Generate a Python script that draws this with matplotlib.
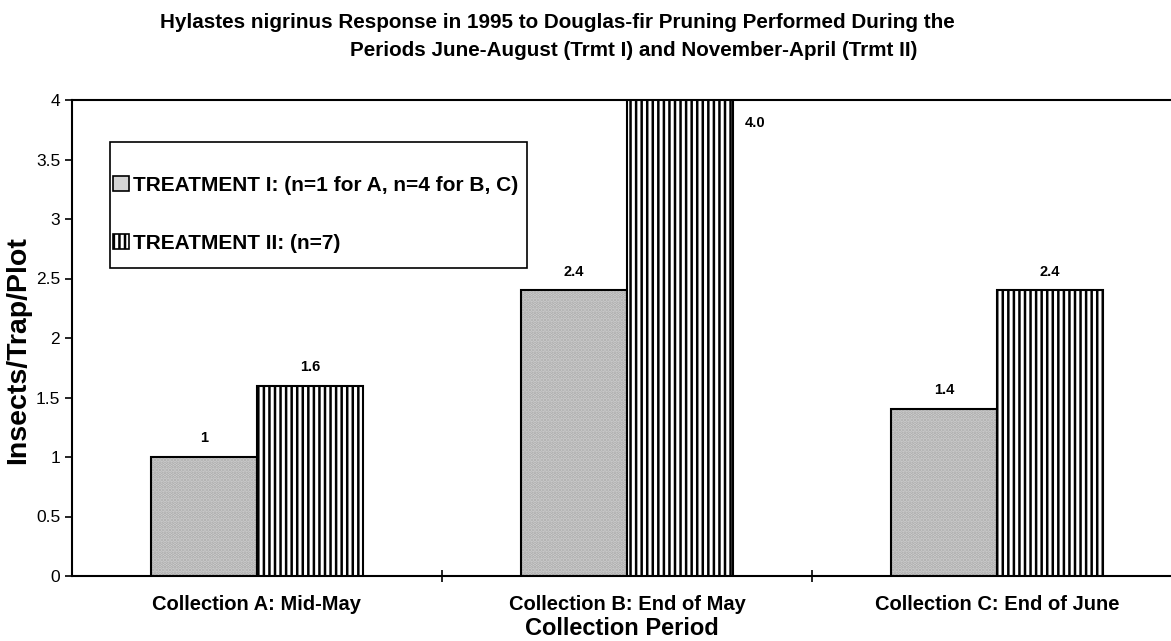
import matplotlib.pyplot as plt
from matplotlib.patches import Patch, Rectangle
import numpy as np

plt.rcParams['font.family'] = ['Liberation Sans', 'DejaVu Sans']
plt.rcParams['hatch.linewidth'] = 1.8

# data
categories = ['Collection A: Mid-May', 'Collection B: End of May', 'Collection C: End of June']
trmt1 = [1.0, 2.4, 1.4]
trmt2 = [1.6, 4.0, 2.4]
trmt1_labels = ['1', '2.4', '1.4']
trmt2_labels = ['1.6', '4.0', '2.4']
yticks = [0, 0.5, 1, 1.5, 2, 2.5, 3, 3.5, 4]
ytick_labels = ['0', '0.5', '1', '1.5', '2', '2.5', '3', '3.5', '4']

W, H = 1171, 641
fig = plt.figure(figsize=(W / 100, H / 100), dpi=100)
ax = fig.add_axes([72 / W, 1 - 576 / H, 1 - 72 / W, (576 - 100) / H])

x = np.arange(len(categories))
w = 0.287

# treatment I: light stipple grey
ax.bar(x - w / 2, trmt1, w, color='#d4d4d4', edgecolor='#a8a8a8', hatch='.....', linewidth=0, zorder=2)
ax.bar(x - w / 2, trmt1, w, facecolor='none', edgecolor='black', linewidth=1.5, zorder=3)
# treatment II: vertical black stripes
ax.bar(x + w / 2, trmt2, w, color='white', edgecolor='black', hatch='|||', linewidth=1.5, zorder=3)

for xi, v, lab in zip(x, trmt1, trmt1_labels):
    ax.text(xi - w / 2, v + 0.1, lab, ha='center', va='bottom', fontsize=10.5, fontweight='bold')
for xi, v, lab in zip(x, trmt2, trmt2_labels):
    if v >= 4:
        ax.text(xi + w + 0.03, v - 0.19, lab, ha='left', va='center', fontsize=10.5, fontweight='bold')
    else:
        ax.text(xi + w / 2, v + 0.1, lab, ha='center', va='bottom', fontsize=10.5, fontweight='bold')

ax.set_ylim(0, 4)
ax.set_xlim(-0.5, -0.5 + 3 * 1099 / 1110)
ax.set_yticks(yticks)
ax.set_yticklabels(ytick_labels, fontsize=12.5)
ax.set_xticks([0.5, 1.5])
ax.set_xticklabels([])
ax.set_xticks(x, minor=True)
ax.set_xticklabels(categories, minor=True, fontsize=14.5, fontweight='bold')
ax.tick_params(axis='x', which='minor', length=0, pad=14)
ax.tick_params(axis='x', which='major', length=8, width=1.2, direction='inout')
ax.tick_params(axis='y', length=5, width=1.2, direction='out')
ax.spines['right'].set_visible(False)
for s in ['left', 'bottom', 'top']:
    ax.spines[s].set_linewidth(1.5)

ax.set_ylabel('Insects/Trap/Plot', fontsize=20.5, fontweight='bold')
ax.yaxis.set_label_coords((31 - 72) / 1099, 0.475)
ax.set_xlabel('Collection Period', fontsize=17, fontweight='bold', labelpad=2)

# legend box drawn by hand so its padding matches the scan
ax.add_patch(Rectangle(((110 - 72) / 1099, (576 - 268) / 476), 417 / 1099, 126 / 476,
                       transform=ax.transAxes, facecolor='white', edgecolor='black',
                       linewidth=1.2, zorder=4))
h1 = Patch(facecolor='#d4d4d4', edgecolor='black', linewidth=1.2)
h2 = Patch(facecolor='white', edgecolor='black', hatch='|||', linewidth=1.2)
leg = ax.legend([h1, h2], ['TREATMENT I: (n=1 for A, n=4 for B, C)', 'TREATMENT II: (n=7)'],
                loc='upper left', bbox_to_anchor=((113 - 72) / 1099, (576 - 176) / 476),
                frameon=False, borderaxespad=0, borderpad=0,
                prop={'weight': 'bold', 'size': 15}, labelspacing=1.85, handlelength=0.75,
                handleheight=0.75, handletextpad=0.2)
leg.set_zorder(5)

fig.text(557 / W, 1 - 22 / H, 'Hylastes nigrinus Response in 1995 to Douglas-fir Pruning Performed During the',
         ha='center', va='center', fontsize=14.9, fontweight='bold')
fig.text(634 / W, 1 - 51 / H, 'Periods June-August (Trmt I) and November-April (Trmt II)',
         ha='center', va='center', fontsize=14.9, fontweight='bold')

fig.savefig('out.png', dpi=100)
